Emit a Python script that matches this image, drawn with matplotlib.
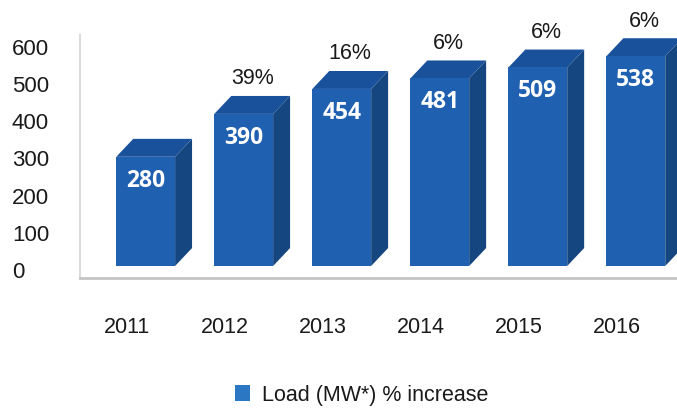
import matplotlib
matplotlib.use("Agg")
import matplotlib.pyplot as plt
from matplotlib.patches import Polygon, Patch

years = ['2011', '2012', '2013', '2014', '2015', '2016']
load = [280, 390, 454, 481, 509, 538]
pct_labels = ['', '39%', '16%', '6%', '6%', '6%']
ytick_vals = [0, 100, 200, 300, 400, 500, 600]
legend_label = 'Load (MW*) % increase'

plt.rcParams['font.family'] = ['Liberation Sans', 'DejaVu Sans']

W, H = 677, 408
fig = plt.figure(figsize=(W / 100, H / 100), dpi=100)
rect = [80 / W, (H - 278) / H, 597 / W, 243 / H]
ax = fig.add_axes(rect)

front_c = '#1f60b0'
top_c = '#1a519b'
side_c = '#16467f'

xs = list(range(len(years)))
off = 0.19
bw = 0.6
dx = 0.173
dy = 46

ax.set_xlim(-0.48, 5.61)
ax.set_ylim(-30.8, 592.3)

bars = ax.bar([x + off for x in xs], load, width=bw, color=front_c, zorder=3)
for x, v in zip(xs, load):
    xl = x + off - bw / 2
    xr = x + off + bw / 2
    side = Polygon([(xr, 0), (xr + dx, dy), (xr + dx, v + dy), (xr, v)],
                   closed=True, facecolor=side_c, edgecolor='none', zorder=2)
    top = Polygon([(xl, v), (xl + dx, v + dy), (xr + dx, v + dy), (xr, v)],
                  closed=True, facecolor=top_c, edgecolor='none', zorder=2)
    ax.add_patch(side)
    ax.add_patch(top)
    ax.annotate(str(v), xy=(x + off, v), xytext=(0, -24), textcoords='offset pixels',
                ha='center', va='center', color='white', fontsize=16.5,
                fontweight='bold', family='Open Sans', zorder=5)

for x, v, p in zip(xs, load, pct_labels):
    if p:
        ax.annotate(p, xy=(x + off + dx / 2, v + dy), xytext=(0, 17),
                    textcoords='offset pixels', ha='center', va='center',
                    color='#1a1a1a', fontsize=15.5, zorder=5)

ax.set_xticks(xs)
ax.set_xticklabels(years, fontsize=15.5, color='#1a1a1a')
ax.tick_params(axis='x', length=0, pad=28)
ax.set_yticks([])
for s in ['top', 'right']:
    ax.spines[s].set_visible(False)
ax.spines['left'].set_color('#dadada')
ax.spines['left'].set_linewidth(1.5)
ax.spines['bottom'].set_color('#c4c4c4')
ax.spines['bottom'].set_linewidth(2)

# tick scale axis (as in the original, ticks not aligned with bar heights)
ax2 = fig.add_axes(rect, frameon=False)
ax2.set_ylim(-21.5, 631)
ax2.set_yticks(ytick_vals)
ax2.set_yticklabels([str(t) for t in ytick_vals], fontsize=16, color='#1a1a1a')
ax2.tick_params(axis='y', length=0, pad=49)
for lab in ax2.get_yticklabels():
    lab.set_ha('left')
ax2.set_xticks([])

fig.legend(handles=[Patch(facecolor='#2b77c4', label=legend_label)],
           loc='center', bbox_to_anchor=(362 / W, 1 - 395 / H), frameon=False,
           fontsize=15.5, handlelength=0.7, handleheight=0.7, handletextpad=0.55,
           labelcolor='#1a1a1a')

fig.savefig('out.png', dpi=100, facecolor='white')
